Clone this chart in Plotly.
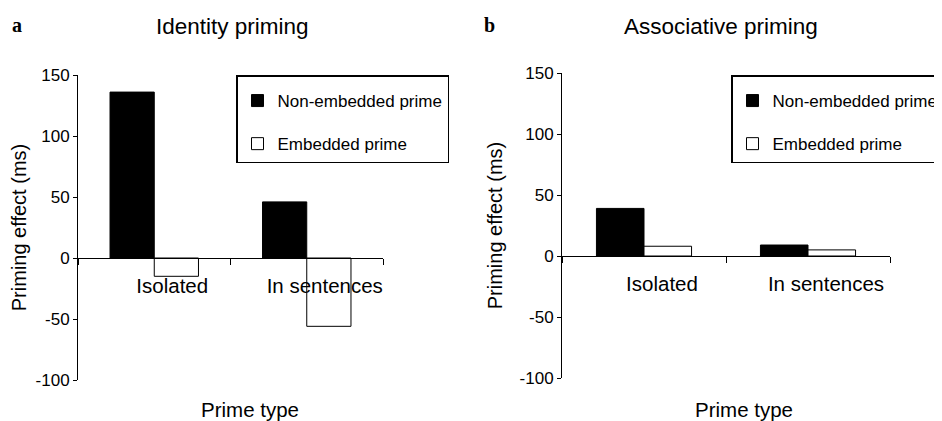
import plotly.graph_objects as go

categories = ["Isolated", "In sentences"]
identity_nonembedded = [136, 46]
identity_embedded = [-15, -56]
assoc_nonembedded = [39, 9]
assoc_embedded = [8, 5]
series_names = ["Non-embedded prime", "Embedded prime"]
y_ticks = [-100, -50, 0, 50, 100, 150]
y_tick_labels = ["-100", "-50", "0", "50", "100", "150"]
panel_titles = ["Identity priming", "Associative priming"]
panel_letters = ["a", "b"]
x_title = "Prime type"
y_title = "Priming effect (ms)"

W, H = 942, 421
OFF = 8  # page body margin offset
FONT = "Liberation Sans, Arial, sans-serif"

def px_x(p):
    return (p - OFF) / W

def px_y(p):
    return 1 - (p - OFF) / H

fig = go.Figure()

panels = [
    dict(data=(identity_nonembedded, identity_embedded), xa="x", ya="y", legend="legend",
         xd=[px_x(78), px_x(383)], yd=[px_y(380), px_y(75)], standoff=4),
    dict(data=(assoc_nonembedded, assoc_embedded), xa="x2", ya="y2", legend="legend2",
         xd=[px_x(562), px_x(890)], yd=[px_y(378), px_y(73)], standoff=11),
]

fills = ["black", "white"]
for i, p in enumerate(panels):
    for j, vals in enumerate(p["data"]):
        fig.add_trace(go.Bar(
            x=categories, y=vals, name=series_names[j],
            marker=dict(color=fills[j], line=dict(color="black", width=1)),
            xaxis=p["xa"], yaxis=p["ya"], legend=p["legend"],
            legendgroup=f"g{j}", showlegend=True,
        ))

ymin, ymax = -100, 150
layout = dict(
    width=W, height=H,
    margin=dict(l=0, r=0, t=0, b=0, autoexpand=False),
    paper_bgcolor="white", plot_bgcolor="white",
    font=dict(family=FONT, color="black", size=17),
    barmode="group", bargap=0.42, bargroupgap=0,
    showlegend=True,
)
for i, p in enumerate(panels):
    suffix = "" if i == 0 else "2"
    yd = p["yd"]
    zero_pos = yd[0] + (yd[1] - yd[0]) * (0 - ymin) / (ymax - ymin)
    layout["xaxis" + suffix] = dict(
        domain=p["xd"], type="category", anchor="free", position=zero_pos,
        showline=True, linecolor="black", linewidth=1,
        ticks="outside", ticklen=6, tickcolor="black", tickson="boundaries",
        tickfont=dict(size=20.5), ticklabelshift=18, ticklabelstandoff=9,
        showgrid=False, zeroline=False, range=[-0.5, 1.5], fixedrange=True,
    )
    layout["yaxis" + suffix] = dict(
        domain=yd, anchor="x" + suffix, range=[ymin, ymax],
        tickvals=y_ticks, ticktext=y_tick_labels, ticks="outside", ticklen=4, tickcolor="black",
        showline=True, linecolor="black", linewidth=1,
        showgrid=False, zeroline=False, tickfont=dict(size=17),
        title=dict(text=y_title, font=dict(size=20), standoff=p["standoff"]),
    )

legend_common = dict(
    bgcolor="white", bordercolor="black", borderwidth=1.5,
    font=dict(size=17, family=FONT), xanchor="left", yanchor="top",
    traceorder="grouped", tracegroupgap=18, itemclick=False, itemdoubleclick=False,
    title=dict(text=" ", font=dict(size=5)),
)
layout["legend"] = dict(x=px_x(236), y=px_y(75), **legend_common)
layout["legend2"] = dict(x=px_x(731), y=px_y(75), **legend_common)

annotations = []
title_x = [232, 721]
letter_x = [17, 489]
xtitle_x = [250, 744]
for i in range(2):
    annotations.append(dict(text=panel_titles[i], x=px_x(title_x[i]), y=px_y(26),
                            xref="paper", yref="paper", showarrow=False,
                            font=dict(size=22.5, family=FONT), xanchor="center", yanchor="middle"))
    annotations.append(dict(text="<b>" + panel_letters[i] + "</b>", x=px_x(letter_x[i]), y=px_y(25),
                            xref="paper", yref="paper", showarrow=False,
                            font=dict(size=20, family="Liberation Serif, Times New Roman, serif"),
                            xanchor="center", yanchor="middle"))
    annotations.append(dict(text=x_title, x=px_x(xtitle_x[i]), y=px_y(409),
                            xref="paper", yref="paper", showarrow=False,
                            font=dict(size=20.5, family=FONT), xanchor="center", yanchor="middle"))
layout["annotations"] = annotations

fig.update_layout(**layout)
fig.write_html("out.html")
